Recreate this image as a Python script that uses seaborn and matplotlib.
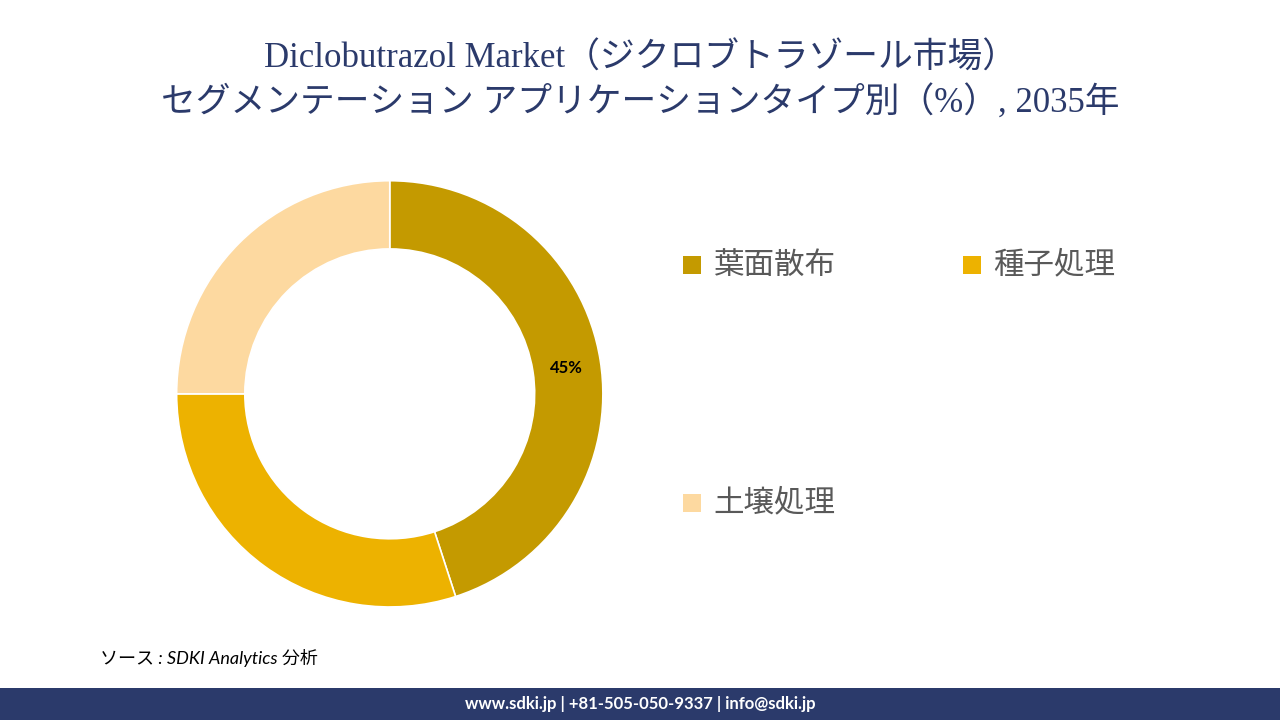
import matplotlib
matplotlib.use("Agg")
import matplotlib.pyplot as plt
import seaborn as sns
from matplotlib.patches import Rectangle

sns.set_theme(style="white")
plt.rcParams['font.family'] = ['Noto Sans CJK JP', 'DejaVu Sans']

categories = ["葉面散布", "種子処理", "土壌処理"]
values = [45, 30, 25]
colors = ["#C49A00", "#EDB200", "#FDD9A0"]
title1 = "Diclobutrazol Market（ジクロブトラゾール市場）"
title2 = "セグメンテーション アプリケーションタイプ別（%）, 2035年"

fig = plt.figure(figsize=(12.8, 7.2), dpi=100)
fig.patch.set_facecolor("white")

navy = "#2B3A6B"
tf = ['Liberation Serif', 'Noto Sans CJK JP']
fig.text(0.5, 0.918, title1, ha="center", va="center", fontsize=25, color=navy, family=tf)
fig.text(0.5, 0.858, title2, ha="center", va="center", fontsize=25, color=navy, family=tf)

ax = fig.add_axes([0.138, 0.157, 0.333, 0.592])
wedges, _ = ax.pie(values, colors=colors, startangle=90, counterclock=False,
                   wedgeprops=dict(width=0.32, edgecolor="white", linewidth=1.2))
ax.set_xlim(-1, 1)
ax.set_ylim(-1, 1)
ax.set_aspect("equal")
ax.axis("off")
ax.text(0.83, 0.12, f"{values[0]}%", ha="center", va="center", fontsize=12, fontweight="bold",
        color="black", family=['Lato', 'DejaVu Sans'])

legend_pos = [(683, 265), (963, 265), (683, 503)]
for (x, y), lab, c in zip(legend_pos, categories, colors):
    fig.patches.append(Rectangle((x / 1280, (720 - y - 9) / 720), 18 / 1280, 18 / 720,
                                 transform=fig.transFigure, facecolor=c, edgecolor="none"))
    fig.text((x + 30) / 1280, (720 - y) / 720, lab, ha="left", va="center", fontsize=22, color="#595959")

fig.text(100 / 1280, (720 - 658) / 720, "ソース : SDKI Analytics 分析", ha="left", va="center",
         fontsize=13, style="italic", color="black", family=['Lato', 'Noto Sans CJK JP'])

fig.patches.append(Rectangle((0, 0), 1, 32 / 720, transform=fig.transFigure, facecolor=navy, edgecolor="none"))
fig.text(0.5, 16 / 720, "www.sdki.jp | +81-505-050-9337 | info@sdki.jp", ha="center", va="center",
         fontsize=12, fontweight="bold", color="white", family=['Lato', 'DejaVu Sans'])

fig.savefig("out.png", dpi=100)
